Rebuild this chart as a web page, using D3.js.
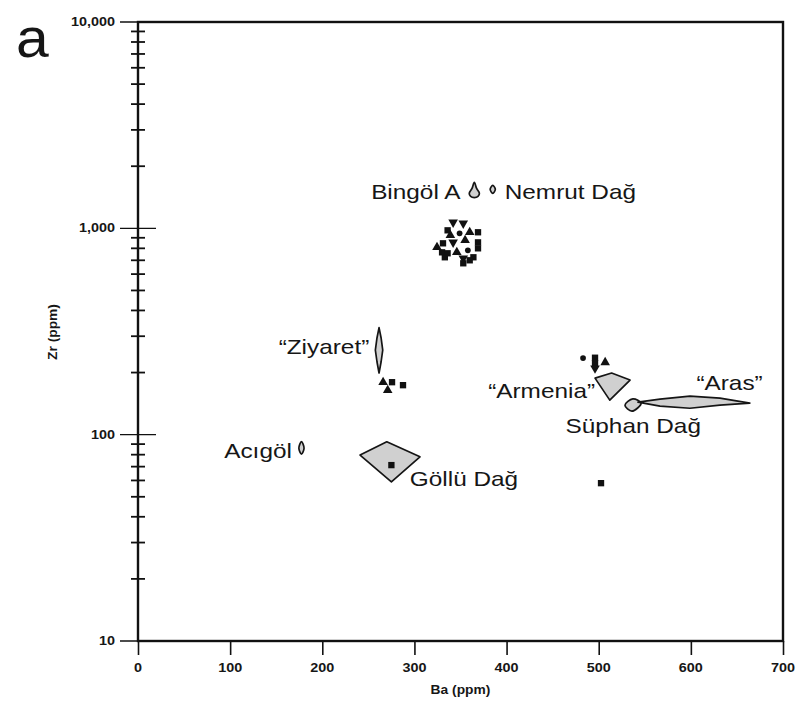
<!DOCTYPE html>
<html>
<head>
<meta charset="utf-8">
<script src="https://cdn.jsdelivr.net/npm/d3@7"></script>
<style>
  html, body { margin: 0; padding: 0; background: #fff; }
  svg { display: block; font-family: "Liberation Sans", Arial, Helvetica, sans-serif; }
</style>
</head>
<body>
<svg id="chart" width="802" height="703"></svg>
<script>
// ---- axis ticks ----
const baTicks = [0, 100, 200, 300, 400, 500, 600, 700];
const zrMajor = [10, 100, 1000, 10000];
const zrTickLabels = ["10", "100", "1,000", "10,000"];

// ---- compositional fields (Ba, Zr vertices) ----
const fieldNames = ["Bingöl A", "Nemrut Dağ", "Ziyaret", "Armenia", "Süphan Dağ", "Aras", "Acıgöl", "Göllü Dağ"];
const fieldSmooth = [true, true, false, false, true, false, true, false];
const bingolA = [[365, 1671], [367.5, 1560], [370.5, 1480], [369, 1428], [365, 1410], [361, 1428], [359.5, 1480], [362.5, 1560]];
const nemrut = [[385, 1615], [387.8, 1545], [385, 1477], [382.2, 1545]];
const ziyaret = [[261.6, 330], [263.8, 295], [265.6, 257], [263.8, 225], [261.6, 199], [259.4, 225], [257.6, 257], [259.4, 295]];
const armenia = [[496, 188], [514, 199], [534, 184], [512, 147]];
const suphan = [[528.5, 139], [537, 149], [546, 142], [536, 130]];
const aras = [[542.6, 143.7], [566.5, 148.7], [599, 153.9], [631.6, 150.3], [664, 142.2], [631.6, 139], [599, 134.3], [566.5, 137.5]];
const acigol = [[177.4, 92.5], [180.2, 86], [177.4, 80.5], [174.6, 86]];
const golluDag = [[241, 79.6], [270, 92.3], [306, 78.1], [275, 59.1]];
const fieldShapes = [bingolA, nemrut, ziyaret, armenia, suphan, aras, acigol, golluDag];

// ---- field labels ----
const labelText = ["Bingöl A", "Nemrut Dağ", "“Ziyaret”", "“Armenia”", "Süphan Dağ", "“Aras”", "Acıgöl", "Göllü Dağ"];
const labelBa = [350, 398, 251, 496, 464, 606, 167, 295];
const labelZr = [1380, 1380, 245, 150, 102, 164, 77, 56.5];
const labelAnchor = ["end", "start", "end", "end", "start", "start", "end", "start"];

// ---- individual analyses ----
const sampleBa = [342, 353, 336, 339, 349, 360, 369, 331, 342, 355, 369, 324.5, 330, 336, 346, 358, 369, 333, 353, 364, 360, 353,
                  266, 275.7, 287.6, 271,
                  483, 496, 496, 507, 496,
                  275, 502.5];
const sampleZr = [1069, 1057, 978, 925, 946, 957, 957, 846, 855, 875, 855, 809, 765, 757, 765, 782, 800, 724, 716, 724, 700, 677,
                  179.6, 179.6, 173.7, 164.2,
                  235, 236, 222, 224, 210,
                  71.2, 58.2];
const sampleShape = ["triangleDown", "triangleDown", "square", "triangle", "circle", "triangle", "square", "square", "triangleDown", "triangle", "square", "triangle", "square", "square", "triangle", "circle", "square", "square", "triangleDown", "square", "square", "square",
                     "triangle", "square", "square", "triangle",
                     "circle", "square", "square", "triangle", "triangleDown",
                     "square", "square"];

// ---- layout ----
const svg = d3.select("#chart");
const plotL = 138, plotR = 783, plotT = 22, plotB = 641;
const x = d3.scaleLinear().domain([0, 700]).range([plotL, plotR]);
const y = d3.scaleLog().domain([10, 10000]).range([plotB, plotT]);
const stretch = 1.16;

// stretched text helper (horizontal stretch around the anchor point)
function label(g, txt, px, py, size, anchor, weight, sx) {
  return g.append("text")
    .attr("transform", `translate(${px},${py}) scale(${sx},1)`)
    .attr("text-anchor", anchor)
    .attr("font-size", size)
    .attr("font-weight", weight)
    .attr("fill", "#161616")
    .text(txt);
}

// panel letter
label(svg, "a", 16, 57, 56, "start", "normal", 1.05);

// x axis ticks and labels
const xAxis = d3.axisBottom(x).tickValues(baTicks).tickSize(14).tickSizeOuter(0).tickFormat(d3.format("d"));
const gx = svg.append("g").attr("transform", `translate(0,${plotB})`).call(xAxis);
gx.select(".domain").remove();
gx.selectAll(".tick line").attr("stroke", "#111").attr("stroke-width", 1.6);
gx.selectAll(".tick text").remove();
baTicks.forEach(v => label(svg, String(v), x(v), 672, 12, "middle", "bold", 1.2));

// y axis: major ticks cross the axis, minor ticks at 2..9 of each decade
const gy = svg.append("g");
y.ticks().forEach(v => {
  const major = zrMajor.includes(v);
  gy.append("line")
    .attr("x1", plotL - (major ? 18 : 7)).attr("x2", plotL + (major ? 18 : 7))
    .attr("y1", y(v)).attr("y2", y(v))
    .attr("stroke", "#111").attr("stroke-width", major ? 1.3 : 1.8);
});
zrMajor.forEach((v, i) => label(gy, zrTickLabels[i], plotL - 23, y(v) + 4, 12, "end", "bold", 1.2));

// frame
svg.append("rect")
  .attr("x", plotL).attr("y", plotT)
  .attr("width", plotR - plotL).attr("height", plotB - plotT)
  .attr("fill", "none").attr("stroke", "#111").attr("stroke-width", 2.4);

// axis titles
label(svg, "Ba (ppm)", (plotL + plotR) / 2, 694, 12, "middle", "bold", 1.15);
svg.append("text")
  .attr("transform", "translate(57,332) rotate(-90) scale(1.15,1)")
  .attr("text-anchor", "middle").attr("font-size", 12).attr("font-weight", "bold").attr("fill", "#161616")
  .text("Zr (ppm)");

// compositional fields
const lineLinear = d3.line().x(d => x(d[0])).y(d => y(d[1])).curve(d3.curveLinearClosed);
const lineSmooth = d3.line().x(d => x(d[0])).y(d => y(d[1])).curve(d3.curveCatmullRomClosed);
svg.append("g").selectAll("path")
  .data(fieldShapes)
  .join("path")
  .attr("d", (d, i) => (fieldSmooth[i] ? lineSmooth : lineLinear)(d))
  .attr("fill", "#d0d0d0")
  .attr("stroke", "#151515")
  .attr("stroke-width", 1.7)
  .attr("stroke-linejoin", "round");

// field labels
const gl = svg.append("g");
labelText.forEach((t, i) => label(gl, t, x(labelBa[i]), y(labelZr[i]), 21, labelAnchor[i], "normal", stretch));

// analyses
const symbolTypes = { square: d3.symbolSquare, triangle: d3.symbolTriangle, triangleDown: d3.symbolTriangle, circle: d3.symbolCircle };
svg.append("g").selectAll("path")
  .data(sampleBa.map((b, i) => ({ ba: b, zr: sampleZr[i], shape: sampleShape[i] })))
  .join("path")
  .attr("d", d => d3.symbol().type(symbolTypes[d.shape]).size(d.shape === "circle" ? 26 : 40)())
  .attr("transform", d => `translate(${x(d.ba)},${y(d.zr)})${d.shape === "triangleDown" ? " rotate(180)" : ""}`)
  .attr("fill", "#111");
</script>
</body>
</html>
